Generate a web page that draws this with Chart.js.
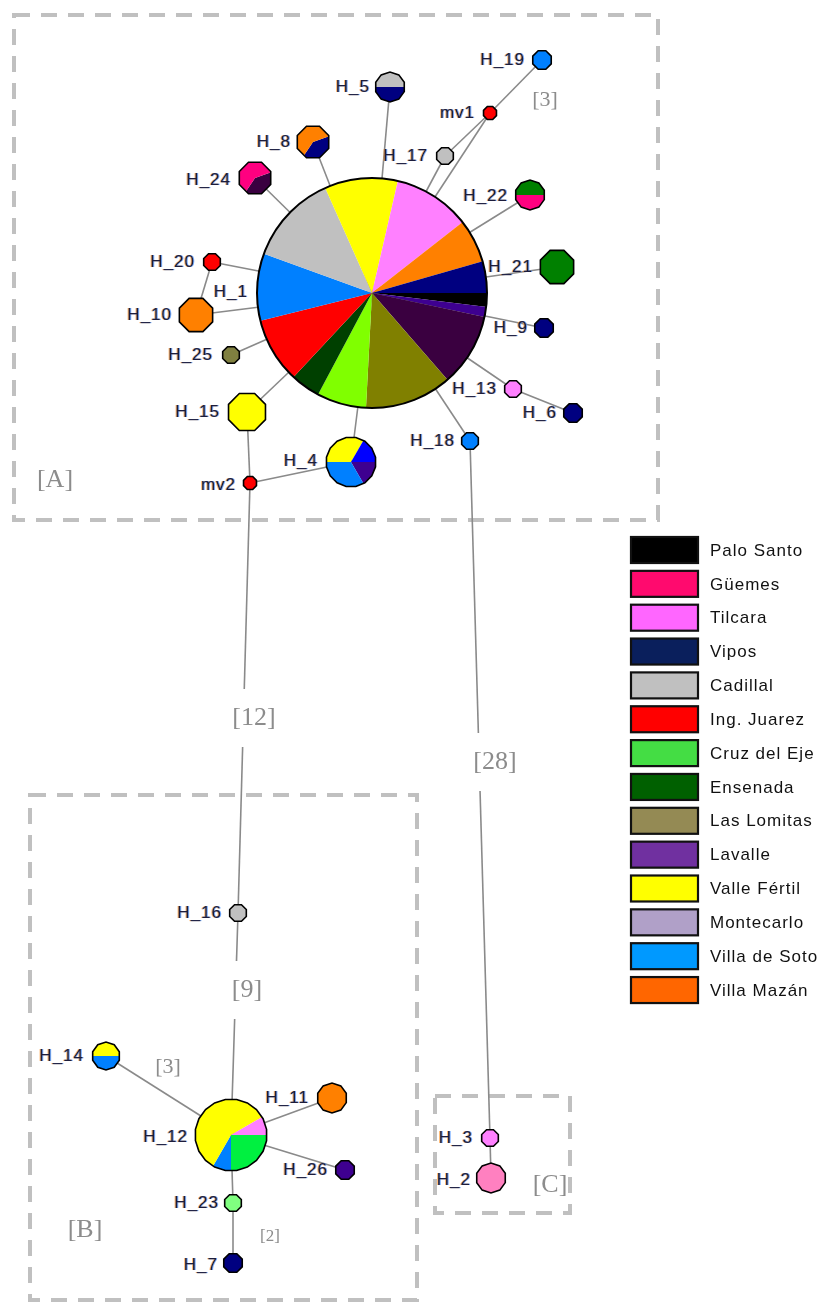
<!DOCTYPE html>
<html>
<head>
<meta charset="utf-8">
<script src="https://cdn.jsdelivr.net/npm/chart.js@4.4.1/dist/chart.umd.min.js"></script>
<style>
  html, body { margin: 0; padding: 0; background: #fff; }
  #wrap { width: 828px; height: 1304px; }
</style>
</head>
<body>
<div id="wrap"><canvas id="network" width="828" height="1304"></canvas></div>
<script>
//********************************************************************************//
//                            Network data
//********************************************************************************//
var haplotypes = ['H_1', 'H_2', 'H_3', 'H_4', 'H_5', 'H_6', 'H_7', 'H_8', 'H_9', 'H_10',
    'H_11', 'H_12', 'H_13', 'H_14', 'H_15', 'H_16', 'H_17', 'H_18', 'H_19', 'H_20',
    'H_21', 'H_22', 'H_23', 'H_24', 'H_25', 'H_26', 'mv1', 'mv2'];
var nodeX = [372, 491, 490, 351, 390, 573, 233, 313, 544, 196,
    332, 231, 513, 106, 247, 238, 445, 470, 542, 212,
    557, 530, 233, 255, 231, 345, 490, 250];
var nodeY = [293, 1178, 1138, 462, 87, 413, 1263, 142, 328, 315,
    1098, 1135, 389, 1056, 412, 913, 156, 441, 60, 262,
    267, 195, 1203, 178, 355, 1170, 113, 483];

// sample counts per colour class, read clockwise
var composition = {
    H_1: [['black', 7], ['indigo', 5], ['plum', 37], ['olive', 44], ['lime', 25], ['forest', 15],
          ['red', 33], ['azure', 34], ['silver', 46], ['yellow', 37], ['pink', 39], ['orange', 22], ['navy', 16]],
    H_2: [['rose', 1]],
    H_3: [['pink', 1]],
    H_4: [['indigo', 1], ['azure', 2], ['yellow', 2], ['blue', 1]],
    H_5: [['silver', 1], ['navy', 1]],
    H_6: [['navy', 1]],
    H_7: [['navy', 1]],
    H_8: [['navy', 2], ['orange', 3]],
    H_9: [['navy', 1]],
    H_10: [['orange', 1]],
    H_11: [['orange', 1]],
    H_12: [['spring', 6], ['azure', 2], ['yellow', 14], ['pink', 2]],
    H_13: [['pink', 1]],
    H_14: [['yellow', 1], ['azure', 1]],
    H_15: [['yellow', 1]],
    H_16: [['silver', 1]],
    H_17: [['silver', 1]],
    H_18: [['azure', 1]],
    H_19: [['azure', 1]],
    H_20: [['red', 1]],
    H_21: [['green', 1]],
    H_22: [['green', 1], ['magenta', 1]],
    H_23: [['mint', 1]],
    H_24: [['plum', 2], ['magenta', 3]],
    H_25: [['khaki', 1]],
    H_26: [['indigo', 1]],
    mv1: [['red', 1]],
    mv2: [['red', 1]]
};

var links = [
    ['H_1', 'H_5'], ['H_1', 'H_8'], ['H_1', 'H_24'], ['H_1', 'H_17'], ['H_17', 'mv1'],
    ['H_1', 'mv1'], ['mv1', 'H_19'], ['H_1', 'H_22'], ['H_1', 'H_21'], ['H_1', 'H_9'],
    ['H_1', 'H_13'], ['H_13', 'H_6'], ['H_1', 'H_18'], ['H_18', 'H_3'], ['H_3', 'H_2'],
    ['H_1', 'H_20'], ['H_20', 'H_10'], ['H_10', 'H_1'], ['H_1', 'H_25'], ['H_1', 'H_15'],
    ['H_15', 'mv2'], ['H_1', 'H_4'], ['H_4', 'mv2'], ['mv2', 'H_16'], ['H_16', 'H_12'],
    ['H_12', 'H_14'], ['H_12', 'H_11'], ['H_12', 'H_26'], ['H_12', 'H_23'], ['H_23', 'H_7']
];

var populations = ['Palo Santo', 'Güemes', 'Tilcara', 'Vipos', 'Cadillal', 'Ing. Juarez',
    'Cruz del Eje', 'Ensenada', 'Las Lomitas', 'Lavalle', 'Valle Fértil', 'Montecarlo',
    'Villa de Soto', 'Villa Mazán'];

var stepLabels = ['[12]', '[28]', '[9]', '[3]', '[3]', '[2]'];
var groupLabels = ['[A]', '[B]', '[C]'];

//********************************************************************************//
//                            Styles and layout
//********************************************************************************//
var palette = {
    black: '#000000', indigo: '#3e0090', plum: '#3a0040', olive: '#808000', lime: '#80ff00',
    forest: '#004000', red: '#ff0000', azure: '#0080ff', silver: '#c0c0c0', yellow: '#ffff00',
    pink: '#ff80ff', orange: '#ff8000', navy: '#000080', magenta: '#ff0080', green: '#008000',
    spring: '#00f040', mint: '#80ff80', khaki: '#808040', rose: '#ff80c0', blue: '#0000ff'
};
var legendColors = ['#000000', '#ff0a6e', '#ff66ff', '#0a1f5c', '#c0c0c0', '#ff0000',
    '#44dd44', '#006000', '#948a54', '#7030a0', '#ffff00', '#b0a0c8', '#0099ff', '#ff6600'];

// radius, polygon sides (0 = circle), start angle in degrees
var nodeShape = {
    H_1: [115, 0, 0], H_2: [15, 10, 0], H_3: [9, 8, 0], H_4: [25, 16, 0], H_5: [15, 10, 180],
    H_6: [10, 8, 0], H_7: [10, 8, 0], H_8: [17, 8, -20], H_9: [10, 8, 0], H_10: [18, 8, 0],
    H_11: [15, 10, 0], H_12: [36, 20, 0], H_13: [9, 8, 0], H_14: [14, 10, 180], H_15: [20, 8, 0],
    H_16: [9, 8, 0], H_17: [9, 8, 0], H_18: [9, 8, 0], H_19: [10, 8, 0], H_20: [9, 8, 0],
    H_21: [18, 8, 0], H_22: [15, 10, 180], H_23: [9, 8, 0], H_24: [17, 8, -20], H_25: [9, 8, 0],
    H_26: [10, 8, 0], mv1: [7, 8, 0], mv2: [7, 8, 0]
};
// right edge of each node label
var labelAnchor = {
    H_1: [248, 292], H_2: [471, 1180], H_3: [473, 1138], H_4: [318, 461], H_5: [370, 87],
    H_6: [557, 413], H_7: [218, 1265], H_8: [291, 142], H_9: [528, 328], H_10: [172, 315],
    H_11: [309, 1098], H_12: [188, 1137], H_13: [497, 389], H_14: [84, 1056], H_15: [220, 412],
    H_16: [222, 913], H_17: [428, 156], H_18: [455, 441], H_19: [525, 60], H_20: [195, 262],
    H_21: [533, 267], H_22: [508, 196], H_23: [219, 1203], H_24: [231, 180], H_25: [213, 355],
    H_26: [328, 1170], mv1: [475, 113], mv2: [236, 485]
};
var stepPos = [[254, 718, 26, true], [495, 762, 26, true], [247, 990, 26, true],
    [545, 100, 22, false], [168, 1067, 22, false], [270, 1237, 17, false]];
var groupBoxes = [[14, 15, 644, 505], [30, 795, 387, 505], [435, 1096, 135, 117]];
var groupPos = [[55, 480], [85, 1230], [550, 1185]];

//********************************************************************************//
//                            Drawing helpers
//********************************************************************************//
function shapePath(ctx, cx, cy, r, sides) {
    ctx.beginPath();
    if (!sides) {
        ctx.arc(cx, cy, r, 0, Math.PI * 2);
        return;
    }
    var off = Math.PI / sides;
    for (var i = 0; i < sides; i++) {
        var a = off + i * 2 * Math.PI / sides;
        var px = cx + r * Math.cos(a), py = cy + r * Math.sin(a);
        if (i === 0) ctx.moveTo(px, py); else ctx.lineTo(px, py);
    }
    ctx.closePath();
}

function drawNode(ctx, cx, cy, name) {
    var shape = nodeShape[name];
    var r = shape[0], sides = shape[1];
    var slices = composition[name];
    var total = slices.reduce(function (s, d) { return s + d[1]; }, 0);
    var a = shape[2] * Math.PI / 180;

    ctx.save();
    shapePath(ctx, cx, cy, r, sides);
    ctx.clip();
    slices.forEach(function (d) {
        var da = d[1] / total * Math.PI * 2;
        ctx.beginPath();
        ctx.moveTo(cx, cy);
        ctx.arc(cx, cy, r + 3, a, a + da);
        ctx.closePath();
        ctx.fillStyle = palette[d[0]];
        ctx.fill();
        a += da;
    });
    ctx.restore();

    shapePath(ctx, cx, cy, r, sides);
    ctx.lineWidth = sides ? 1.6 : 2;
    ctx.strokeStyle = '#000';
    ctx.stroke();
}

function nodeLabel(ctx, text, x, y) {
    ctx.font = '17px "Liberation Sans", Arial, sans-serif';
    ctx.letterSpacing = '1px';
    ctx.textAlign = 'right';
    ctx.textBaseline = 'middle';
    ctx.fillStyle = 'rgba(255,150,40,0.7)';
    ctx.fillText(text, x - 1, y);
    ctx.fillStyle = 'rgba(60,140,255,0.7)';
    ctx.fillText(text, x + 1, y);
    ctx.fillStyle = '#1c1c3c';
    ctx.fillText(text, x, y);
    ctx.letterSpacing = '0px';
}

var networkPlugin = {
    id: 'haplotypeNetwork',
    beforeDatasetsDraw: function (chart) {
        var ctx = chart.ctx;
        ctx.save();
        ctx.strokeStyle = '#c0c0c0';
        ctx.lineWidth = 4;
        ctx.setLineDash([16, 11]);
        groupBoxes.forEach(function (b) { ctx.strokeRect(b[0], b[1], b[2], b[3]); });
        ctx.restore();
    },
    afterDatasetsDraw: function (chart) {
        var ctx = chart.ctx;
        var xs = chart.scales.x, ys = chart.scales.y;
        ctx.save();

        // mutation step counts along the edges
        ctx.textAlign = 'center';
        ctx.textBaseline = 'middle';
        stepLabels.forEach(function (t, i) {
            var p = stepPos[i];
            ctx.font = p[2] + 'px "Liberation Serif", "Times New Roman", serif';
            if (p[3]) {
                var w = ctx.measureText(t).width + 10;
                ctx.fillStyle = '#fff';
                ctx.fillRect(p[0] - w / 2, p[1] - 29, w, 58);
            }
            ctx.fillStyle = '#8c8c8c';
            ctx.fillText(t, p[0], p[1]);
        });

        var meta = chart.getDatasetMeta(0);
        meta.data.forEach(function (pt, i) {
            drawNode(ctx, pt.x, pt.y, haplotypes[i]);
        });
        haplotypes.forEach(function (h) {
            var a = labelAnchor[h];
            nodeLabel(ctx, h, xs.getPixelForValue(a[0]), ys.getPixelForValue(a[1]));
        });

        // group tags
        ctx.font = '26px "Liberation Serif", "Times New Roman", serif';
        ctx.textAlign = 'center';
        ctx.fillStyle = '#8c8c8c';
        groupLabels.forEach(function (t, i) { ctx.fillText(t, groupPos[i][0], groupPos[i][1]); });

        // population key
        populations.forEach(function (p, i) {
            var y = 537 + i * 33.85;
            ctx.fillStyle = legendColors[i];
            ctx.fillRect(631, y, 67, 26);
            ctx.strokeStyle = '#111';
            ctx.lineWidth = 2.2;
            ctx.strokeRect(631, y, 67, 26);
            ctx.font = '17px "Liberation Sans", Arial, sans-serif';
            ctx.letterSpacing = '1px';
            ctx.textAlign = 'left';
            ctx.fillStyle = '#111';
            ctx.fillText(p, 710, y + 14);
            ctx.letterSpacing = '0px';
        });
        ctx.restore();
    }
};

//********************************************************************************//
//                            Chart
//********************************************************************************//
var points = haplotypes.map(function (h, i) { return { x: nodeX[i], y: nodeY[i] }; });
var datasets = [{
    data: points,
    pointRadius: 0,
    pointHoverRadius: 0,
    showLine: false
}];
links.forEach(function (l) {
    var a = haplotypes.indexOf(l[0]), b = haplotypes.indexOf(l[1]);
    datasets.push({
        data: [points[a], points[b]],
        showLine: true,
        borderColor: '#8a8a8a',
        borderWidth: 1.6,
        pointRadius: 0,
        pointHoverRadius: 0
    });
});

window.addEventListener('load', function () {
    new Chart(document.getElementById('network'), {
        type: 'scatter',
        data: { datasets: datasets },
        options: {
            responsive: false,
            animation: false,
            events: [],
            layout: { padding: 0 },
            plugins: { legend: { display: false }, tooltip: { enabled: false } },
            scales: {
                x: { type: 'linear', min: 0, max: 828, display: false },
                y: { type: 'linear', min: 0, max: 1304, reverse: true, display: false }
            }
        },
        plugins: [networkPlugin]
    });
});
</script>
</body>
</html>
